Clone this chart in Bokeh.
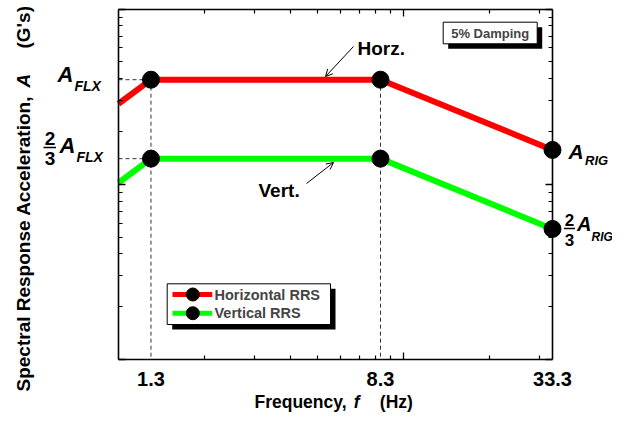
import math
from bokeh.plotting import figure
from bokeh.models import Range1d, LinearAxis, FixedTicker, Label, Arrow, OpenHead
from bokeh.embed import file_html
from bokeh.resources import INLINE

# ---------------- data ----------------
freq = [1.0, 1.3, 8.3, 33.3]                 # Hz
horiz_rrs = [2.88, 3.95, 3.95, 1.57]         # Horizontal RRS
vert_rrs = [1.02, 1.40, 1.40, 0.556]         # Vertical RRS
x_limits = [1.0, 33.3]
y_limits = [0.1, 10.0]
x_label_ticks = [1.3, 8.3, 33.3]
x_label_text = ["1.3", "8.3", "33.3"]
x_major_ticks = [10]
x_minor_ticks = [2, 3, 4, 5, 6, 7, 8, 9, 20, 30]
y_major_ticks = [0.1, 1, 10]
y_minor_ticks = [0.2, 0.3, 0.4, 0.5, 0.6, 0.7, 0.8, 0.9, 2, 3, 4, 5, 6, 7, 8, 9]
series_names = ["Horizontal RRS", "Vertical RRS"]

# ---------------- layout (canvas pixels) ----------------
W, H = 612, 413
BL, BR, BT, BB = 118.0, 552.0, 8.5, 359.0
FONT = "Liberation Sans"

kx = (math.log10(x_limits[1]) - math.log10(x_limits[0])) / (BR - BL)
ky = (math.log10(y_limits[1]) - math.log10(y_limits[0])) / (BB - BT)


def X(px):
    return 10 ** (math.log10(x_limits[0]) + (px - BL) * kx)


def Y(py):
    return 10 ** (math.log10(y_limits[1]) - (py - BT) * ky)


p = figure(width=W, height=H, x_axis_type="log", y_axis_type="log",
           x_range=Range1d(X(0), X(W)), y_range=Range1d(Y(H), Y(0)),
           x_axis_location=None, y_axis_location=None,
           output_backend="svg", toolbar_location=None, min_border=0)
p.outline_line_color = None
p.background_fill_color = "white"
p.border_fill_color = "white"
p.xgrid.visible = False
p.ygrid.visible = False


def tick_axis(fixed, bounds, ticks, minor):
    ax = LinearAxis(fixed_location=fixed, bounds=bounds,
                    ticker=FixedTicker(ticks=ticks, minor_ticks=minor))
    ax.major_label_text_color = None
    ax.axis_line_width = 1.6
    ax.axis_line_color = "black"
    ax.major_tick_in = 7
    ax.major_tick_out = 0
    ax.minor_tick_in = 4
    ax.minor_tick_out = 0
    ax.major_tick_line_width = 1.3
    ax.minor_tick_line_width = 1.2
    return ax


p.add_layout(tick_axis(y_limits[0], tuple(x_limits), x_major_ticks, x_minor_ticks), "below")
p.add_layout(tick_axis(y_limits[1], tuple(x_limits), x_major_ticks, x_minor_ticks), "above")
p.add_layout(tick_axis(x_limits[0], tuple(y_limits), y_major_ticks, y_minor_ticks), "left")
p.add_layout(tick_axis(x_limits[1], tuple(y_limits), y_major_ticks, y_minor_ticks), "right")

lab_ax = LinearAxis(fixed_location=y_limits[0],
                    ticker=FixedTicker(ticks=x_label_ticks, minor_ticks=[]),
                    major_label_overrides=dict(zip(x_label_ticks, x_label_text)))
lab_ax.axis_line_color = None
lab_ax.major_tick_line_color = None
lab_ax.minor_tick_line_color = None
lab_ax.major_tick_out = 0
lab_ax.major_tick_in = 0
lab_ax.major_label_standoff = 12
lab_ax.major_label_text_font = FONT
lab_ax.major_label_text_font_size = "20px"
lab_ax.major_label_text_font_style = "bold"
lab_ax.major_label_text_color = "black"
p.add_layout(lab_ax, "below")

# ---------------- dashed guide lines ----------------
a_flx, a_flx23 = horiz_rrs[1], vert_rrs[1]
dash = dict(line_color="#333333", line_width=1, line_dash="4 3")
p.line([x_limits[0], freq[1]], [a_flx, a_flx], **dash)
p.line([x_limits[0], freq[1]], [a_flx23, a_flx23], **dash)
p.line([freq[1], freq[1]], [a_flx, y_limits[0]], **dash)
p.line([freq[2], freq[2]], [horiz_rrs[2], y_limits[0]], **dash)

# ---------------- spectra ----------------
p.line(freq, horiz_rrs, line_color="#FF0000", line_width=6, line_join="round")
p.line(freq, vert_rrs, line_color="#00FF00", line_width=6, line_join="round")
p.scatter(freq[1:], horiz_rrs[1:], size=17, color="black")
p.scatter(freq[1:], vert_rrs[1:], size=17, color="black")


def lab(text, x, base, size, style="bold", align="left", angle=0):
    """Place text so that its baseline lies at `base` (vertical) or x-`base` (rotated)."""
    off = 0.35 * size
    if angle:
        px, py = x - off, base
    else:
        px, py = x, base - off
    p.add_layout(Label(x=X(px), y=Y(py), text=text, text_font=FONT,
                       text_font_size=f"{size}px", text_font_style=style,
                       text_align=align, text_baseline="middle", angle=angle,
                       text_color="black"))


def frac_bar(x0, x1, y):
    p.segment(x0=[X(x0)], y0=[Y(y)], x1=[X(x1)], y1=[Y(y)], line_color="black", line_width=1.5)


# ---------------- level labels ----------------
lab("A", 57, 81.7, 22, "bold italic")
lab("FLX", 74, 90.7, 14, "bold italic")
lab("2", 49.5, 144.3, 19, align="center")
frac_bar(43, 55.5, 147)
lab("3", 49.5, 165, 19, align="center")
lab("A", 59, 152.7, 22, "bold italic")
lab("FLX", 76, 161.7, 14, "bold italic")

lab("A", 568, 158.3, 21, "bold italic")
lab("RIG", 584.5, 165, 13, "bold italic")
lab("2", 569, 225.7, 17, align="center")
frac_bar(563.5, 574.5, 228)
lab("3", 569, 245.5, 17, align="center")
lab("A", 576.5, 230, 20, "bold italic")
lab("RIG", 591, 240.5, 12, "bold italic")

# ---------------- annotations ----------------
lab("Horz.", 357, 54.5, 19)
lab("Vert.", 258, 196.5, 19)
p.add_layout(Arrow(x_start=X(353), y_start=Y(46), x_end=X(325), y_end=Y(76),
                   line_width=1, end=OpenHead(size=7, line_width=1)))
p.add_layout(Arrow(x_start=X(306), y_start=Y(183), x_end=X(333), y_end=Y(162),
                   line_width=1, end=OpenHead(size=7, line_width=1)))

# 5% damping box
p.quad(left=[X(447.7)], right=[X(541.7)], top=[Y(26.7)], bottom=[Y(48.3)],
       fill_color="black", line_color=None)
p.quad(left=[X(442.7)], right=[X(536.7)], top=[Y(21.7)], bottom=[Y(43.3)],
       fill_color="white", line_color="black", line_width=1)
p.add_layout(Label(x=X(489.7), y=Y(32.6), text="5% Damping", text_font=FONT,
                   text_font_size="13px", text_font_style="bold",
                   text_align="center", text_baseline="middle"))

# legend
p.quad(left=[X(171.7)], right=[X(335)], top=[Y(288.3)], bottom=[Y(329)],
       fill_color="black", line_color=None)
p.quad(left=[X(166.7)], right=[X(330)], top=[Y(283.3)], bottom=[Y(324)],
       fill_color="white", line_color="black", line_width=1)
for i, (name, col) in enumerate(zip(series_names, ["#FF0000", "#00FF00"])):
    ry = 294 + i * 18.7
    p.segment(x0=[X(172)], y0=[Y(ry)], x1=[X(211.7)], y1=[Y(ry)], line_color=col, line_width=5)
    p.scatter([X(192.3)], [Y(ry)], size=13, color="black")
    p.add_layout(Label(x=X(214), y=Y(ry), text=name, text_font=FONT,
                       text_font_size="14.5px", text_font_style="bold",
                       text_align="left", text_baseline="middle"))

# ---------------- axis titles ----------------
lab("Frequency,", 254, 408, 17.5)
lab("f", 353.3, 408, 17.5, "bold italic")
lab("(Hz)", 379.3, 408, 17.5)

lab("Spectral Response Acceleration,", 30, 391, 19, angle=math.pi / 2)
lab("A", 30, 87, 19, "bold italic", angle=math.pi / 2)
lab("(G's)", 30, 48, 19, angle=math.pi / 2)

open("out.html", "w").write(file_html(p, INLINE))
